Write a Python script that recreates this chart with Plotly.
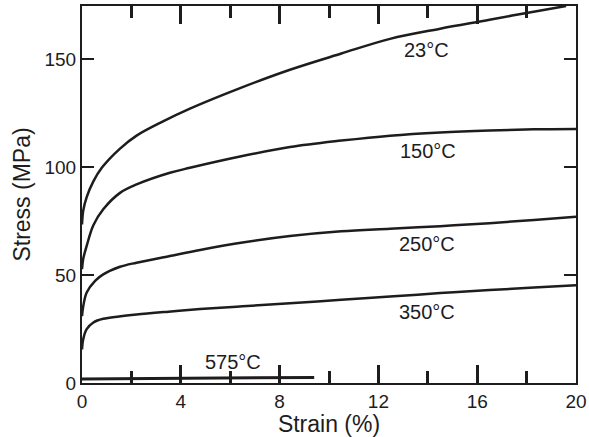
import plotly.graph_objects as go

# Data
strain_23 = [0, 0.05, 0.19, 0.46, 0.8, 1.54, 2.21, 3.3, 4.37, 6.4, 8.42, 10.5, 12.47, 14.5, 16.5, 18.0, 19.6]
stress_23 = [73.4, 79.8, 86.0, 93.3, 99.6, 108.5, 114.5, 121.2, 127.0, 136.5, 145.0, 152.5, 159.3, 164.0, 168.1, 171.3, 174.5]

strain_150 = [0, 0.05, 0.19, 0.46, 0.86, 1.54, 2.21, 3.56, 4.37, 6.4, 8.42, 10.5, 12.47, 14.5, 16.5, 18.3, 20]
stress_150 = [52.7, 57.5, 63.5, 73.0, 80.4, 88.0, 91.9, 97.3, 99.6, 104.8, 109.2, 112.2, 114.5, 116.0, 116.9, 117.4, 117.6]

strain_250 = [0, 0.05, 0.19, 0.53, 0.86, 1.54, 2.21, 3.56, 4.78, 6.5, 8.42, 10.5, 12.47, 14.5, 16.5, 18.3, 20]
stress_250 = [30.9, 35.5, 41.9, 47.3, 50.3, 53.8, 55.7, 58.8, 61.6, 65.0, 68.0, 70.2, 71.4, 72.6, 74.0, 75.5, 77.0]

strain_350 = [0, 0.05, 0.19, 0.46, 0.86, 1.5, 2.21, 3.5, 4.78, 6.5, 8.42, 10.5, 12.47, 14.5, 16.5, 18.3, 20]
stress_350 = [15.5, 20.3, 24.9, 28.0, 29.7, 30.8, 31.7, 33.0, 34.2, 35.5, 36.9, 38.5, 40.0, 41.6, 43.0, 44.2, 45.3]

strain_575 = [0, 9.4]
stress_575 = [1.8, 2.6]

series = [
    ("23°C", strain_23, stress_23),
    ("150°C", strain_150, stress_150),
    ("250°C", strain_250, stress_250),
    ("350°C", strain_350, stress_350),
    ("575°C", strain_575, stress_575),
]

# Label positions (strain, stress)
label_text = ["23°C", "150°C", "250°C", "350°C", "575°C"]
label_x = [13.95, 14.0, 13.95, 13.95, 6.13]
label_y = [154.3, 107.3, 64.2, 32.7, 9.6]

x_major_step = 4
x_minor_step = 2
y_major_step = 50
x_range = [0, 20]
y_range = [0, 174.5]

ink = "#1e1c1d"
font_family = "Liberation Sans, Arial, Helvetica, sans-serif"

fig = go.Figure()
for name, xs, ys in series:
    fig.add_trace(go.Scatter(
        x=xs, y=ys, mode="lines", name=name,
        line=dict(color=ink, width=3 if name == "575°C" else 2.5,
                  shape="spline", smoothing=1.0),
        showlegend=False,
    ))

# invisible trace to activate the minor-tick overlay axis
fig.add_trace(go.Scatter(x=[x_range[0]], y=[y_range[0]], xaxis="x2", mode="markers",
                         marker=dict(opacity=0), showlegend=False))

for t, x, y in zip(label_text, label_x, label_y):
    fig.add_annotation(x=x, y=y, text=t, showarrow=False,
                       font=dict(family=font_family, size=20, color=ink),
                       xanchor="center", yanchor="middle")

fig.update_layout(
    width=589, height=437,
    margin=dict(l=82, r=13, t=6, b=54, autoexpand=False),
    paper_bgcolor="white", plot_bgcolor="white",
    font=dict(family=font_family, color=ink),
    showlegend=False,
    # overlay axis carrying the short minor ticks (top and bottom)
    xaxis2=dict(
        overlaying="x", side="bottom", range=x_range,
        tickmode="linear", tick0=0, dtick=x_minor_step,
        ticks="inside", ticklen=12, tickwidth=2.5, tickcolor=ink,
        showticklabels=False, showline=False, mirror="ticks",
        showgrid=False, zeroline=False,
    ),
    xaxis=dict(
        range=x_range, tickmode="linear", tick0=0, dtick=x_major_step,
        ticks="inside", ticklen=18, tickwidth=2.5, tickcolor=ink,
        showline=True, linecolor=ink, linewidth=2, mirror="ticks",
        showgrid=False, zeroline=False,
        tickfont=dict(size=19, family=font_family, color=ink),
        title=dict(text="Strain (%)", font=dict(size=23, family=font_family, color=ink),
                   standoff=4),
    ),
    yaxis=dict(
        range=y_range, tickmode="linear", tick0=0, dtick=y_major_step,
        ticks="inside", ticklen=12, tickwidth=2, tickcolor=ink,
        showline=True, linecolor=ink, linewidth=2, mirror="ticks",
        showgrid=False, zeroline=False,
        tickfont=dict(size=19, family=font_family, color=ink),
        title=dict(text="Stress (MPa)", font=dict(size=23, family=font_family, color=ink),
                   standoff=7),
    ),
)

fig.write_html("out.html", config={"displayModeBar": False},
               post_script="document.body.style.margin='0';")
